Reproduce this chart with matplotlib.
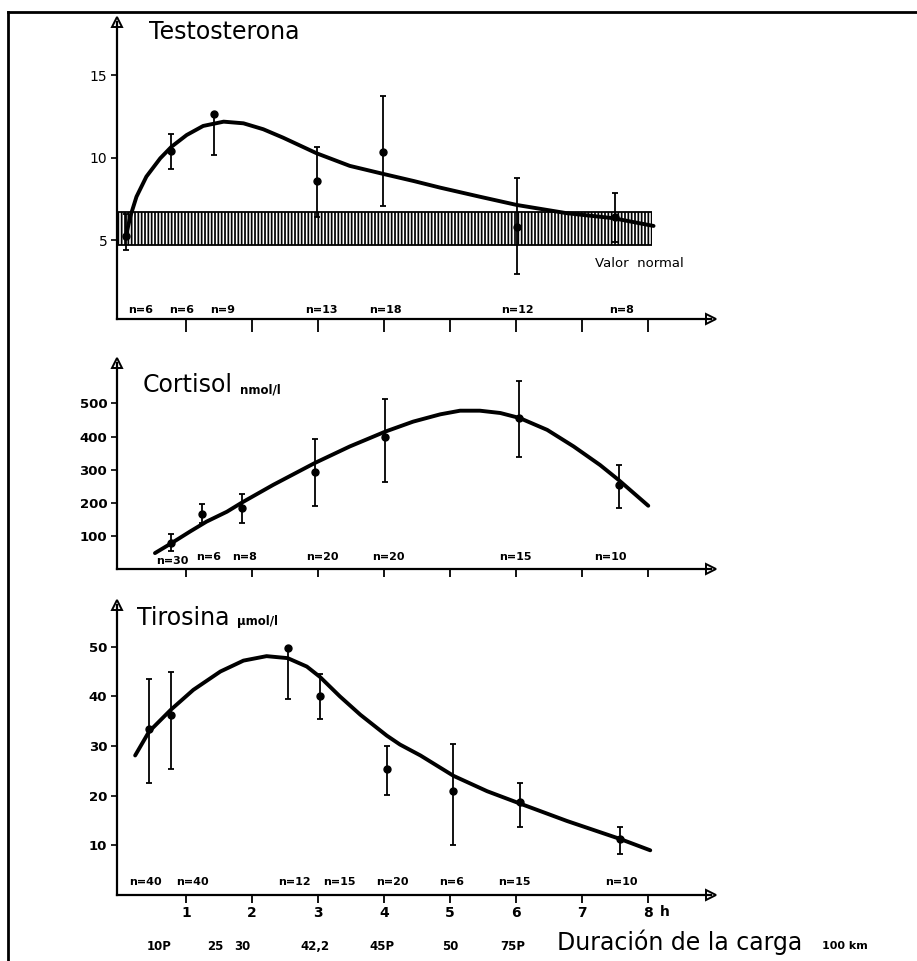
import matplotlib.pyplot as plt
from matplotlib.lines import Line2D
from matplotlib.transforms import blended_transform_factory

W, H = 917, 961

hours = [1, 2, 3, 4, 5, 6, 7, 8]
hour_labels = ["1", "2", "3", "4", "5", "6", "7", "8"]

# Testosterona (mean, lower and upper end of the bar)
testo_h = [0.09, 0.77, 1.42, 2.98, 3.99, 6.01, 7.50]
testo_v = [5.3, 10.42, 12.65, 8.6, 10.38, 5.84, 6.4]
testo_lo = [4.45, 9.31, 10.18, 6.44, 7.11, 2.97, 4.9]
testo_hi = [6.6, 11.45, 12.75, 10.65, 13.76, 8.81, 7.9]
testo_n = ["n=6", "n=6", "n=9", "n=13", "n=18", "n=12", "n=8"]
testo_n_h = [0.32, 0.93, 1.55, 3.05, 4.02, 6.02, 7.6]
testo_curve_h = [0.08, 0.16, 0.25, 0.40, 0.61, 0.78, 1.01, 1.26, 1.57, 1.87, 2.17,
                 2.47, 2.98, 3.48, 3.99, 4.45, 4.85, 5.45, 6.01, 6.77, 7.47, 8.08]
testo_curve_v = [5.1, 6.5, 7.65, 8.87, 9.98, 10.68, 11.39, 11.94, 12.2, 12.1, 11.74,
                 11.23, 10.28, 9.52, 9.03, 8.6, 8.2, 7.65, 7.15, 6.65, 6.35, 5.88]
normal_lo, normal_hi = 4.72, 6.7
normal_x = [-0.04, 8.05]

# Cortisol nmol/l
cort_h = [0.78, 1.24, 1.85, 2.95, 4.02, 6.05, 7.55]
cort_v = [78, 166, 184, 294, 398, 456, 254]
cort_lo = [53, 140, 140, 191, 264, 337, 184]
cort_hi = [106, 197, 227, 392, 513, 569, 314]
cort_n = ["n=30", "n=6", "n=8", "n=20", "n=20", "n=15", "n=10"]
cort_n_h = [0.79, 1.34, 1.88, 3.07, 4.07, 5.99, 7.43]
cort_curve_h = [0.53, 0.78, 1.06, 1.31, 1.62, 1.85, 2.32, 2.95, 3.48, 4.02, 4.44,
                4.85, 5.15, 5.45, 5.76, 6.05, 6.47, 6.87, 7.27, 7.55, 8.0]
cort_curve_v = [48, 78, 113, 143, 173, 201, 254, 320, 370, 415, 445,
                467, 478, 478, 471, 456, 420, 370, 314, 269, 191]

# Tirosina umol/l
tyr_h = [0.44, 0.77, 2.54, 3.03, 4.04, 5.05, 6.06, 7.57]
tyr_v = [33.4, 36.3, 49.8, 40.1, 25.4, 20.9, 18.7, 11.2]
tyr_lo = [22.6, 25.4, 39.4, 35.4, 20.1, 10.0, 13.7, 8.2]
tyr_hi = [43.5, 45.0, 50.0, 44.5, 30.1, 30.4, 22.6, 13.7]
tyr_n = ["n=40", "n=40", "n=12", "n=15", "n=20", "n=6", "n=15", "n=10"]
tyr_n_h = [0.39, 1.1, 2.64, 3.32, 4.12, 5.02, 5.98, 7.6]
tyr_curve_h = [0.23, 0.44, 0.77, 1.11, 1.52, 1.87, 2.22, 2.54, 2.83, 3.03, 3.33,
               3.64, 4.04, 4.24, 4.55, 5.05, 5.56, 6.06, 6.77, 7.57, 8.03]
tyr_curve_v = [28.1, 32.9, 37.3, 41.3, 45.0, 47.2, 48.1, 47.7, 46.0, 43.9, 40.0,
               36.3, 32.1, 30.3, 28.1, 24.0, 20.9, 18.4, 14.9, 11.3, 9.0]

dist_labels = ["10P", "25", "30", "42,2", "45P", "50", "75P"]
dist_h = [0.6, 1.45, 1.85, 2.96, 3.97, 5.0, 5.95]

plt.rcParams["font.family"] = ["DejaVu Sans"]
plt.rcParams["hatch.linewidth"] = 1.25


def fx(px):
    return px / W


def fy(py):
    return 1 - py / H


def make_axes(fig, top_px, bottom_px, ylim, yticks, bold, xlen):
    ax = fig.add_axes([fx(117), fy(bottom_px), (711 - 117) / W, (bottom_px - top_px) / H])
    ax.set_xlim(-0.045, 8.95)
    ax.set_ylim(*ylim)
    ax.patch.set_alpha(0)
    for s in ("top", "right"):
        ax.spines[s].set_visible(False)
    for s in ("left", "bottom"):
        ax.spines[s].set_linewidth(1.6)
    ax.plot(1, 0, ">", transform=ax.transAxes, clip_on=False, ms=7,
            mfc="white", mec="black", mew=1.4)
    ax.plot(0, 1, "^", transform=ax.transAxes, clip_on=False, ms=7,
            mfc="white", mec="black", mew=1.4)
    ax.set_xticks(hours)
    ax.tick_params(axis="x", direction="out", length=xlen, width=1.3, labelbottom=False)
    ax.set_yticks(yticks)
    ax.tick_params(axis="y", direction="out", length=4, width=1.2, pad=3)
    for lab in ax.get_yticklabels():
        lab.set_fontsize(10 if not bold else 9.5)
        lab.set_fontweight("bold" if bold else "normal")
    return ax


def draw_series(ax, h, v, lo, hi, ch, cv):
    err = [[a - b for a, b in zip(v, lo)], [b - a for a, b in zip(v, hi)]]
    ax.errorbar(h, v, yerr=err, fmt="o", color="black", ms=5, elinewidth=1.3,
                capsize=2.5, capthick=1.3, zorder=4)
    ax.plot(ch, cv, color="black", lw=2.8, solid_capstyle="round",
            solid_joinstyle="round", zorder=5)


def n_labels(ax, labels, xs, y):
    for lab, x in zip(labels, xs):
        ax.text(x, y, lab, ha="center", va="center", fontsize=8, fontweight="bold")


fig = plt.figure(figsize=(W / 100, H / 100), dpi=100)

# frame of the scanned page
fig.add_artist(Line2D([fx(8), fx(8)], [fy(12), 0], color="black", lw=2))
fig.add_artist(Line2D([fx(8), 1], [fy(12), fy(12)], color="black", lw=2))

# Testosterona
ax1 = make_axes(fig, 22, 319, (0.24, 18.24), [5, 10, 15], False, 9)
ax1.fill_between(normal_x, normal_lo, normal_hi, facecolor="white", edgecolor="black",
                 hatch="|||||", lw=0, zorder=2)
ax1.hlines([normal_lo, normal_hi], normal_x[0], normal_x[1], color="black", lw=1.3, zorder=3)
draw_series(ax1, testo_h, testo_v, testo_lo, testo_hi, testo_curve_h, testo_curve_v)
n_labels(ax1, testo_n, testo_n_h, 0.79)
ax1.text(7.2, 3.62, "Valor  normal", ha="left", va="center", fontsize=9.5)
fig.text(fx(149), fy(32), "Testosterona", fontsize=17, va="center", ha="left")

# Cortisol
ax2 = make_axes(fig, 363, 569, (0, 622), [100, 200, 300, 400, 500], True, 6)
draw_series(ax2, cort_h, cort_v, cort_lo, cort_hi, cort_curve_h, cort_curve_v)
n_labels(ax2, cort_n[:1], cort_n_h[:1], 24)
n_labels(ax2, cort_n[1:], cort_n_h[1:], 37)
fig.text(fx(143), fy(385), "Cortisol", fontsize=17, va="center", ha="left")
fig.text(fx(240), fy(390), "nmol/l", fontsize=8.5, fontweight="bold", va="center", ha="left")

# Tirosina
ax3 = make_axes(fig, 605, 895, (0, 58.4), [10, 20, 30, 40, 50], True, 6)
draw_series(ax3, tyr_h, tyr_v, tyr_lo, tyr_hi, tyr_curve_h, tyr_curve_v)
n_labels(ax3, tyr_n, tyr_n_h, 2.55)
fig.text(fx(137), fy(618), "Tirosina", fontsize=17, va="center", ha="left")
fig.text(fx(237), fy(622), "\u00b5mol/l", fontsize=8.5, fontweight="bold", va="center", ha="left")

ax3.tick_params(axis="x", labelbottom=True, pad=2)
ax3.set_xticklabels(hour_labels, fontsize=10, fontweight="bold")
fig.text(fx(660), fy(912), "h", fontsize=10, fontweight="bold", va="center", ha="left")

tr = blended_transform_factory(ax3.transData, fig.transFigure)
for lab, x in zip(dist_labels, dist_h):
    ax3.text(x, fy(946), lab, transform=tr, ha="center", va="center",
             fontsize=8.5, fontweight="bold", clip_on=False)
fig.text(fx(557), fy(942), "Duración de la carga", fontsize=17, va="center", ha="left")
fig.text(fx(822), fy(946), "100 km", fontsize=8, fontweight="bold", va="center", ha="left")

fig.savefig("out.png", dpi=100)
